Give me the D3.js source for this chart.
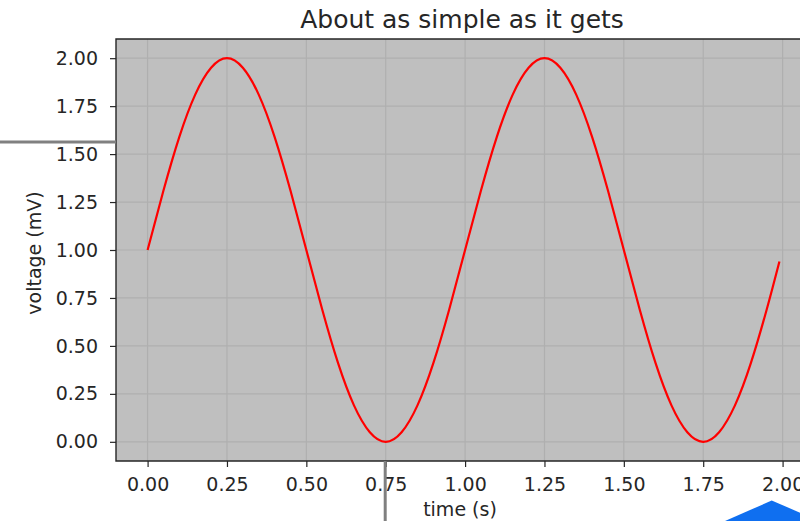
<!DOCTYPE html>
<html>
<head>
<meta charset="utf-8">
<script src="https://cdn.jsdelivr.net/npm/d3@7"></script>
<style>
body { margin: 0; background: #ffffff; }
svg { display: block; font-family: "DejaVu Sans", sans-serif; }
</style>
</head>
<body>
<script>
// values
var times = [0.00, 0.05, 0.10, 0.15, 0.20, 0.25, 0.30, 0.35, 0.40, 0.45,
  0.50, 0.55, 0.60, 0.65, 0.70, 0.75, 0.80, 0.85, 0.90, 0.95,
  1.00, 1.05, 1.10, 1.15, 1.20, 1.25, 1.30, 1.35, 1.40, 1.45,
  1.50, 1.55, 1.60, 1.65, 1.70, 1.75, 1.80, 1.85, 1.90, 1.95, 1.99];
var voltage = [1.00, 1.31, 1.59, 1.81, 1.95, 2.00, 1.95, 1.81, 1.59, 1.31,
  1.00, 0.69, 0.41, 0.19, 0.05, 0.00, 0.05, 0.19, 0.41, 0.69,
  1.00, 1.31, 1.59, 1.81, 1.95, 2.00, 1.95, 1.81, 1.59, 1.31,
  1.00, 0.69, 0.41, 0.19, 0.05, 0.00, 0.05, 0.19, 0.41, 0.69, 0.94];
var xTicks = [0, 0.25, 0.5, 0.75, 1.0, 1.25, 1.5, 1.75, 2.0];
var yTicks = [0, 0.25, 0.5, 0.75, 1.0, 1.25, 1.5, 1.75, 2.0];

var width = 800;
var height = 521;
var axLeft = 116, axTop = 39, axRight = 811, axBottom = 461;

var svg = d3.select("body")
  .append("svg")
  .attr("width", width)
  .attr("height", height);

var x = d3.scaleLinear().domain([-0.0995, 2.0895]).range([axLeft, axRight]);
var y = d3.scaleLinear().domain([-0.1, 2.1]).range([axBottom, axTop]);

svg.append("rect")
  .attr("x", axLeft)
  .attr("y", axTop)
  .attr("width", axRight - axLeft)
  .attr("height", axBottom - axTop)
  .attr("fill", "#bfbfbf");

// grid
svg.selectAll("line.xgrid")
  .data(xTicks)
  .enter()
  .append("line")
  .classed("xgrid", true)
  .attr("x1", function (d) { return x(d); })
  .attr("x2", function (d) { return x(d); })
  .attr("y1", axTop)
  .attr("y2", axBottom)
  .attr("stroke", "#afafaf")
  .attr("stroke-width", 1.2);
svg.selectAll("line.ygrid")
  .data(yTicks)
  .enter()
  .append("line")
  .classed("ygrid", true)
  .attr("y1", function (d) { return y(d); })
  .attr("y2", function (d) { return y(d); })
  .attr("x1", axLeft)
  .attr("x2", axRight)
  .attr("stroke", "#afafaf")
  .attr("stroke-width", 1.2);

var line = d3.line()
  .x(function (d, i) { return x(times[i]); })
  .y(function (d) { return y(d); })
  .curve(d3.curveNatural);

svg.append("path")
  .attr("d", line(voltage))
  .attr("fill", "none")
  .attr("stroke", "#ff0000")
  .attr("stroke-width", 2.2);

// axes
var xAxis = d3.axisBottom(x)
  .tickValues(xTicks)
  .tickFormat(d3.format(".2f"))
  .tickSize(6)
  .tickPadding(11);
var yAxis = d3.axisLeft(y)
  .tickValues(yTicks)
  .tickFormat(d3.format(".2f"))
  .tickSize(6)
  .tickPadding(12);

var gx = svg.append("g")
  .attr("transform", "translate(0," + axBottom + ")")
  .call(xAxis);
var gy = svg.append("g")
  .attr("transform", "translate(" + axLeft + ",0)")
  .call(yAxis);
[gx, gy].forEach(function (g) {
  g.select(".domain").remove();
  g.selectAll(".tick line").attr("stroke", "#262626").attr("stroke-width", 1.2);
  g.selectAll(".tick text")
    .attr("fill", "#262626")
    .style("font-size", "19px")
    .style("font-family", "DejaVu Sans");
});

// spines
svg.append("path")
  .attr("d", "M" + axRight + "," + axTop + "H" + axLeft + "V" + axBottom + "H" + axRight)
  .attr("fill", "none")
  .attr("stroke", "#262626")
  .attr("stroke-width", 1.4);

svg.append("text")
  .attr("x", 462)
  .attr("y", 28)
  .attr("text-anchor", "middle")
  .attr("fill", "#262626")
  .style("font-size", "25px")
  .text("About as simple as it gets");

svg.append("text")
  .attr("x", 460)
  .attr("y", 516)
  .attr("text-anchor", "middle")
  .attr("fill", "#262626")
  .style("font-size", "19px")
  .text("time (s)");

svg.append("text")
  .attr("transform", "translate(41,253) rotate(-90)")
  .attr("text-anchor", "middle")
  .attr("fill", "#262626")
  .style("font-size", "19px")
  .text("voltage (mV)");

// overlay marks
svg.append("line")
  .attr("x1", 0)
  .attr("x2", axLeft)
  .attr("y1", 142)
  .attr("y2", 142)
  .attr("stroke", "#808080")
  .attr("stroke-width", 3);
svg.append("line")
  .attr("x1", 385.2)
  .attr("x2", 385.2)
  .attr("y1", axBottom)
  .attr("y2", height)
  .attr("stroke", "#808080")
  .attr("stroke-width", 3);
svg.append("polygon")
  .attr("points", "771.7,500.5 700,532 845,532")
  .attr("fill", "#0f6ff0");
</script>
</body>
</html>
